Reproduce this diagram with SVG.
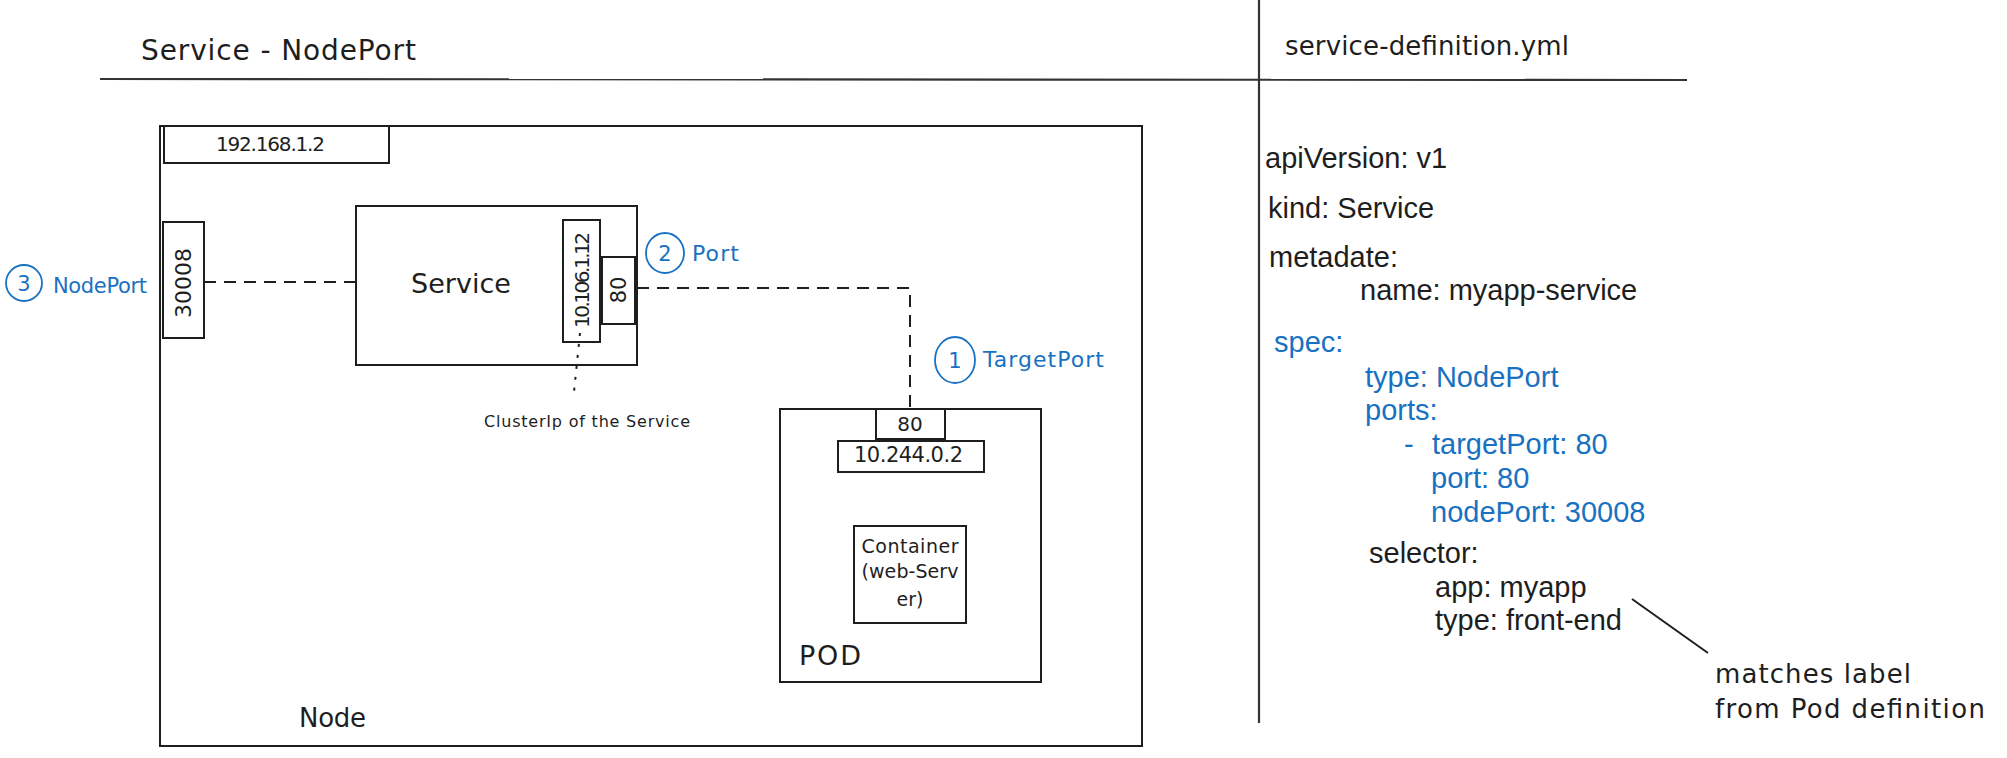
<svg xmlns="http://www.w3.org/2000/svg" width="2007" height="758" viewBox="0 0 2007 758">
<style>
.box{fill:none;stroke:#1e1e1e;stroke-width:2}
.rule{fill:none;stroke:#333;stroke-width:2.2}
.hand{font-family:"DejaVu Sans",sans-serif;fill:#1e1e1e}
.blue{fill:#1971c2}
.circ{fill:none;stroke:#1971c2;stroke-width:1.8}
.yml{font-family:"Liberation Sans",Arial,sans-serif;font-size:29px;fill:#1e1e1e}
.ymlb{font-family:"Liberation Sans",Arial,sans-serif;font-size:29px;fill:#1971c2}
.dash{fill:none;stroke:#1e1e1e;stroke-width:2;stroke-dasharray:12 8}
.dot{fill:none;stroke:#1e1e1e;stroke-width:2;stroke-dasharray:3 8}
</style>
<rect width="2007" height="758" fill="#ffffff"/>

<g id="header">
<text class="hand" x="141" y="60" font-size="28" textLength="275">Service - NodePort</text>
<line class="rule" x1="100" y1="79" x2="1687" y2="80"/>
<line class="rule" x1="1259" y1="0" x2="1259" y2="723"/>
<text class="hand" x="1285" y="55" font-size="26" textLength="284">service-definition.yml</text>
</g>

<g id="node">
<rect class="box" x="160" y="126" width="982" height="620"/>
<text class="hand" x="299" y="727" font-size="26" textLength="67">Node</text>
</g>

<g id="node-ip">
<rect class="box" x="164" y="126" width="225" height="37"/>
<text class="hand" x="216" y="151" font-size="20" textLength="109">192.168.1.2</text>
</g>

<g id="nodeport-box">
<rect class="box" x="163" y="222" width="41" height="116"/>
<text class="hand" font-size="22" text-anchor="middle" transform="translate(191,283) rotate(-90)" textLength="70">30008</text>
</g>

<g id="label-nodeport">
<ellipse class="circ" cx="24" cy="283" rx="18" ry="18"/>
<text class="hand blue" x="24" y="291" font-size="21" text-anchor="middle">3</text>
<text class="hand blue" x="53" y="293" font-size="21" textLength="94">NodePort</text>
</g>

<g id="service">
<rect class="box" x="356" y="206" width="281" height="159"/>
<text class="hand" x="461" y="293" font-size="27" text-anchor="middle">Service</text>
</g>

<g id="cluster-ip">
<rect class="box" x="563" y="220" width="37" height="122"/>
<text class="hand" font-size="20" text-anchor="middle" transform="translate(589,280) rotate(-90)" textLength="96">10.106.1.12</text>
</g>

<g id="service-port">
<rect class="box" x="602" y="257" width="33" height="67"/>
<text class="hand" font-size="21" text-anchor="middle" transform="translate(626,290) rotate(-90)">80</text>
</g>

<g id="label-port">
<ellipse class="circ" cx="665" cy="253" rx="19" ry="20"/>
<text class="hand blue" x="665" y="261" font-size="21" text-anchor="middle">2</text>
<text class="hand blue" x="692" y="261" font-size="22" textLength="47">Port</text>
</g>

<g id="label-targetport">
<ellipse class="circ" cx="955" cy="360" rx="20" ry="23"/>
<text class="hand blue" x="955" y="368" font-size="21" text-anchor="middle">1</text>
<text class="hand blue" x="983" y="367" font-size="22" textLength="121">TargetPort</text>
</g>

<g id="clusterip-note">
<text class="hand" x="484" y="427" font-size="16" textLength="206">ClusterIp of the Service</text>
</g>

<g id="pod">
<rect class="box" x="780" y="409" width="261" height="273"/>
<text class="hand" x="799" y="665" font-size="27" textLength="62">POD</text>
</g>

<g id="pod-port">
<rect class="box" x="876" y="409" width="69" height="30"/>
<text class="hand" x="910" y="431" font-size="20" text-anchor="middle">80</text>
</g>

<g id="pod-ip">
<rect class="box" x="838" y="441" width="146" height="31"/>
<text class="hand" x="854" y="462" font-size="21" textLength="109">10.244.0.2</text>
</g>

<g id="container">
<rect class="box" x="854" y="526" width="112" height="97"/>
<text class="hand" x="910" y="553" font-size="19" text-anchor="middle" textLength="97">Container</text>
<text class="hand" x="910" y="578" font-size="19" text-anchor="middle" textLength="97">(web-Serv</text>
<text class="hand" x="910" y="606" font-size="19" text-anchor="middle">er)</text>
</g>

<g id="connectors">
<line class="dash" x1="204" y1="282" x2="356" y2="282"/>
<polyline class="dash" points="637,288 910,288 910,409"/>
<line class="dot" x1="580" y1="333" x2="574" y2="392"/>
<line class="box" x1="1632" y1="599" x2="1708" y2="653"/>
</g>

<g id="yaml">
<text class="yml" x="1265" y="168">apiVersion: v1</text>
<text class="yml" x="1268" y="218">kind: Service</text>
<text class="yml" x="1269" y="267">metadate:</text>
<text class="yml" x="1360" y="300">name: myapp-service</text>
<text class="ymlb" x="1274" y="352">spec:</text>
<text class="ymlb" x="1365" y="387">type: NodePort</text>
<text class="ymlb" x="1365" y="420">ports:</text>
<text class="ymlb" x="1404" y="454">-</text>
<text class="ymlb" x="1432" y="454">targetPort: 80</text>
<text class="ymlb" x="1431" y="488">port: 80</text>
<text class="ymlb" x="1431" y="522">nodePort: 30008</text>
<text class="yml" x="1369" y="563">selector:</text>
<text class="yml" x="1435" y="597">app: myapp</text>
<text class="yml" x="1435" y="630">type: front-end</text>
</g>

<g id="selector-note">
<text class="hand" x="1715" y="683" font-size="26" textLength="196">matches label</text>
<text class="hand" x="1715" y="718" font-size="26" textLength="270">from Pod definition</text>
</g>
</svg>
